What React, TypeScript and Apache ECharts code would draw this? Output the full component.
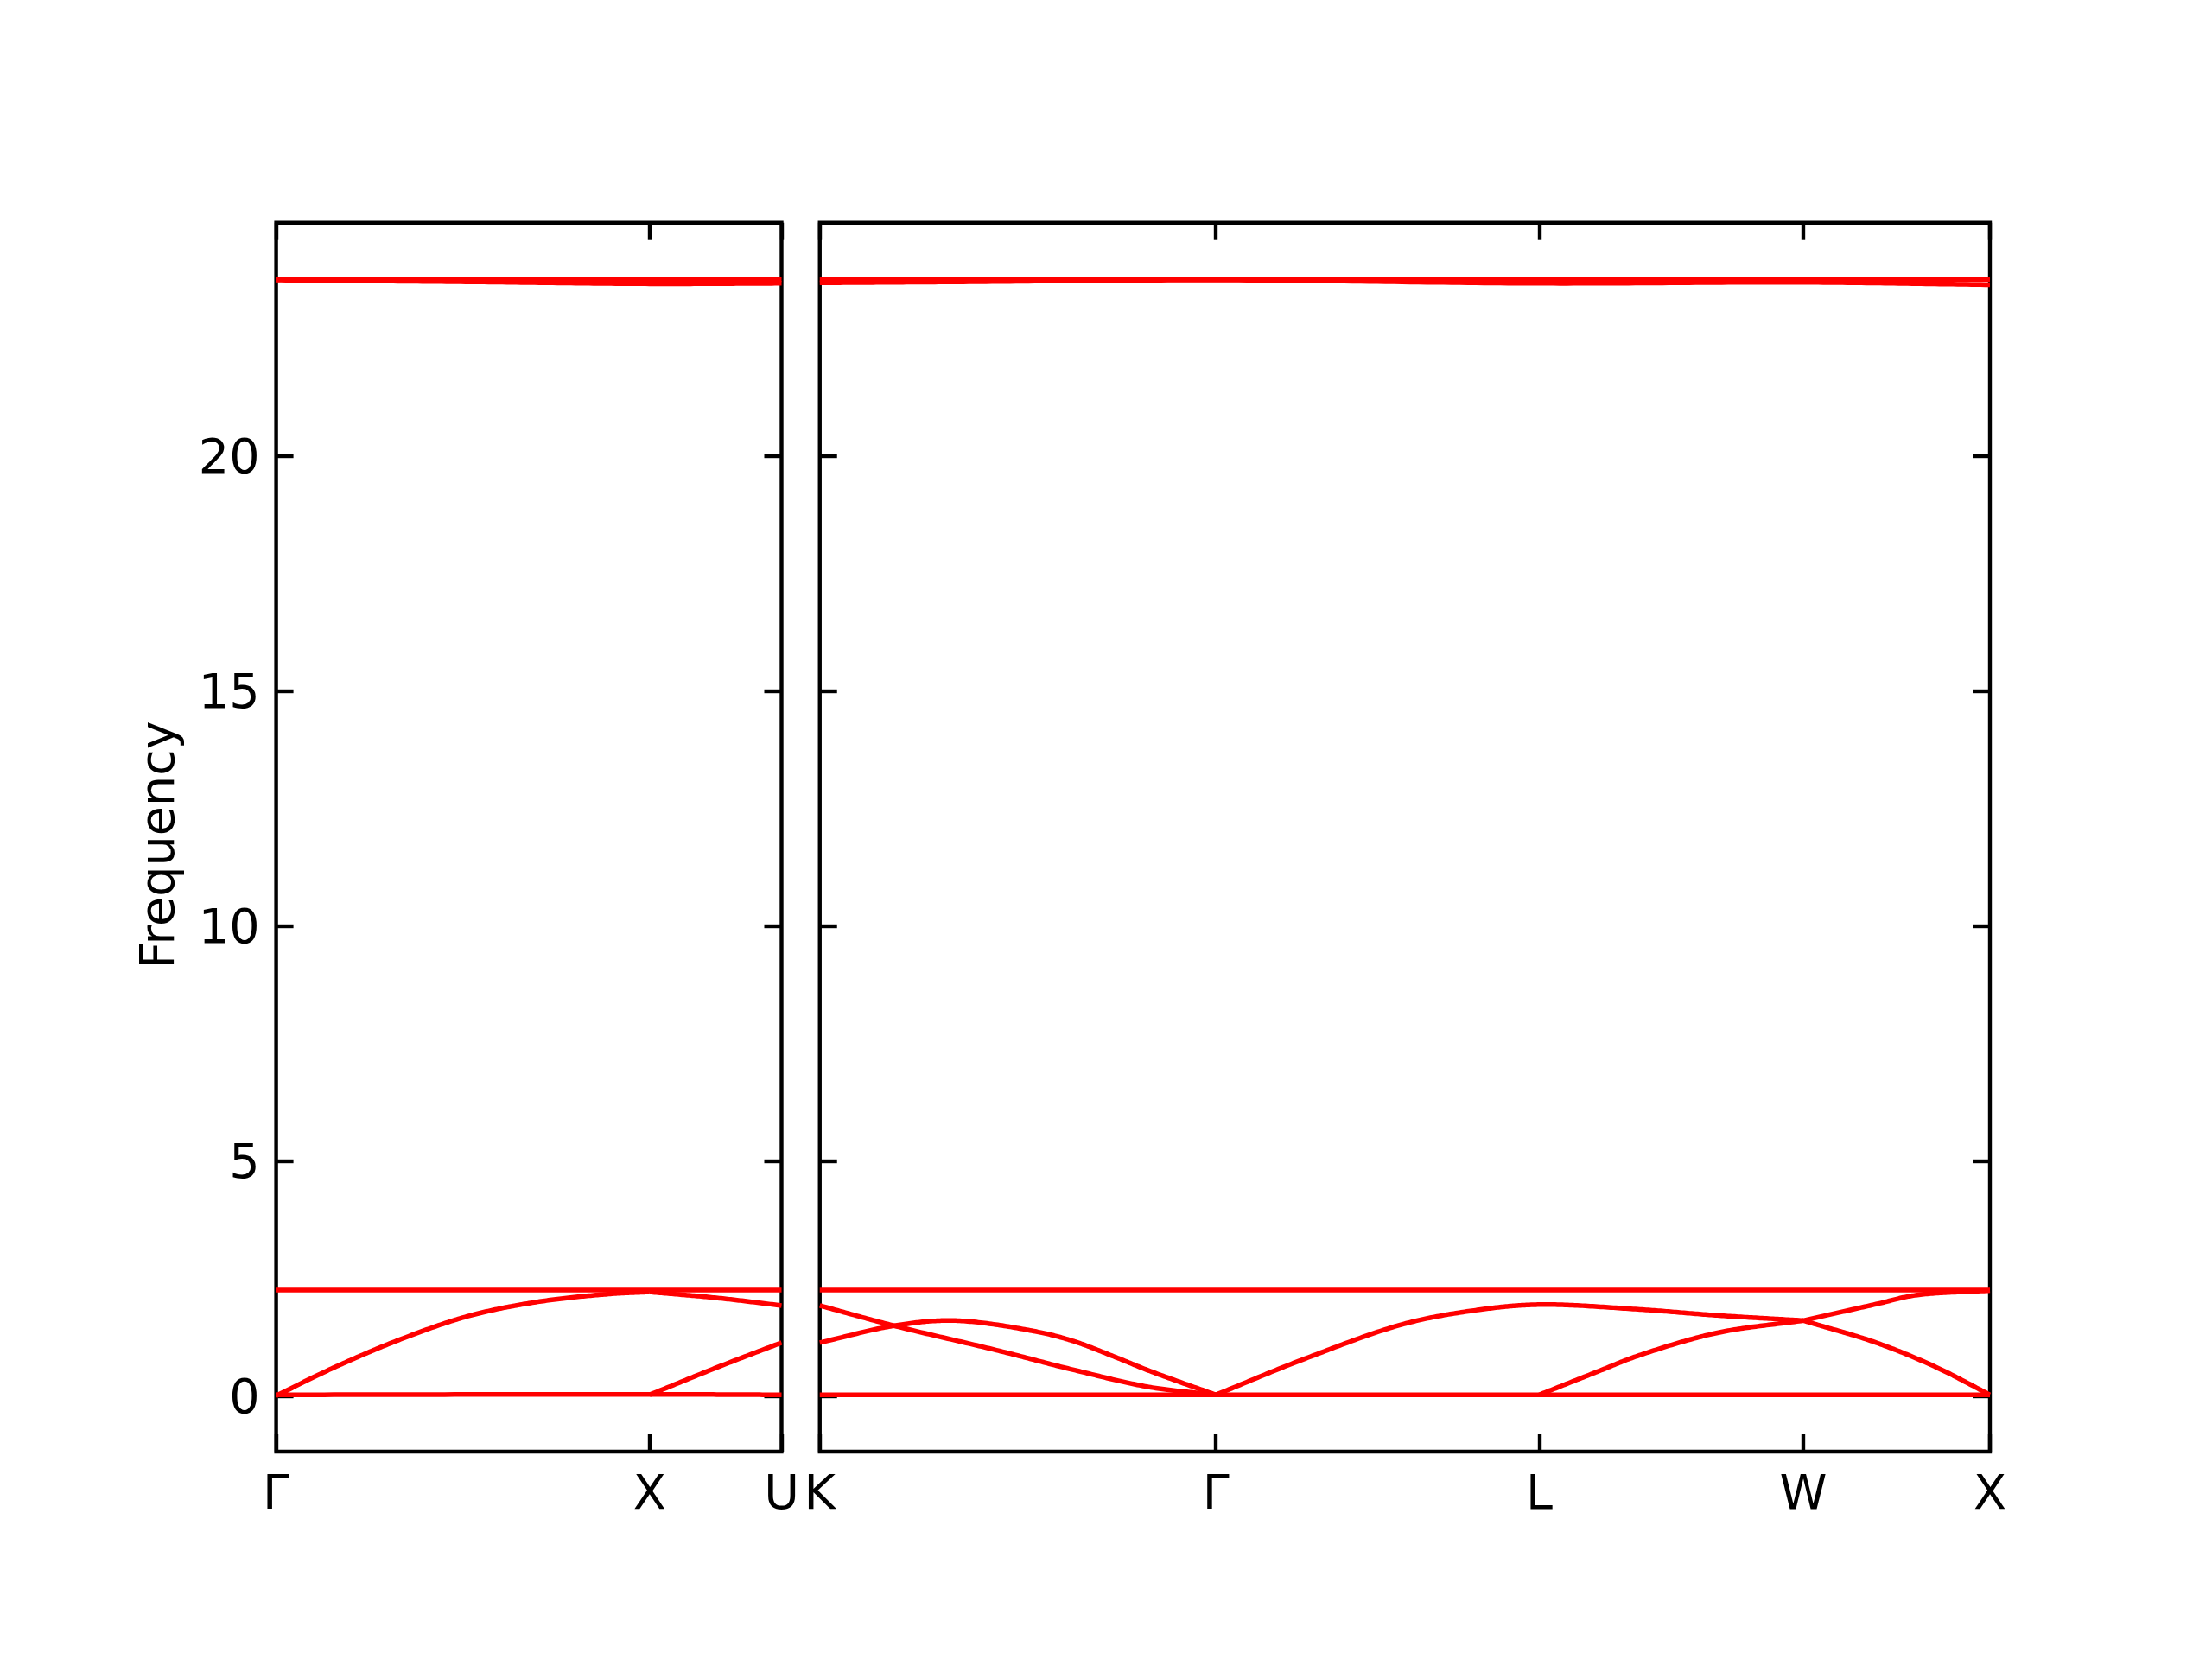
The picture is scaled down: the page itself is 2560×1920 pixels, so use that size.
import React, { useEffect, useRef } from "react";
import * as echarts from "echarts";

// ---- axis ticks / labels (path distance in units of 2π/a) ----
const leftTicks = [0, 1, 1.3536];
const leftLabels = ["Γ", "X", "U"];
const rightTicks = [0, 1.0607, 1.9267, 2.6338, 3.1338];
const rightLabels = ["K", "Γ", "L", "W", "X"];
const yTicks = [0, 5, 10, 15, 20];
const yMin = -1.19;
const yMax = 24.97;

// ---- left panel (Γ–X–U) bands ----
const leftFlatLow = [[0, 0.02], [1, 0.03], [1.3536, 0.02]];
const leftFlatHigh = [[0, 2.25], [1.3536, 2.25]];
const leftRiseGX = [[0, 0.0], [0.144, 0.56], [0.333, 1.2], [0.521, 1.71], [0.71, 2.01], [0.899, 2.17], [1, 2.21]];
const leftFallXU = [[1, 2.21], [1.183, 2.08], [1.3536, 1.92]];
const leftRiseXU = [[1, 0.02], [1.183, 0.61], [1.3536, 1.13]];
const leftTopA = [[0, 23.76], [1.3536, 23.76]];
const leftTopB = [[0, 23.75], [0.52, 23.71], [1, 23.67], [1.3536, 23.68]];

// ---- right panel (K–Γ–L–W–X) bands ----
const rightFlatLow = [[0, 0.02], [3.1338, 0.02]];
const rightFlatHigh = [[0, 2.25], [3.1338, 2.25]];
const rightKGA = [[0, 1.92], [0.199, 1.49], [0.473, 0.97], [0.68, 0.55], [0.886, 0.18], [1.0607, 0.02]];
const rightKGB = [[0, 1.13], [0.199, 1.49], [0.359, 1.6], [0.577, 1.37], [0.68, 1.16], [0.783, 0.85], [0.886, 0.52], [1.0607, 0.02]];
const rightGLWC = [[1.0607, 0.02], [1.3, 0.79], [1.565, 1.53], [1.766, 1.83], [1.9267, 1.94], [2.191, 1.84], [2.404, 1.71], [2.6338, 1.6]];
const rightWXUp = [[2.6338, 1.6], [2.829, 1.95], [2.935, 2.14], [3.1338, 2.24]];
const rightLWD = [[1.9267, 0.02], [2.085, 0.52], [2.191, 0.85], [2.404, 1.34], [2.6338, 1.6]];
const rightWXDown = [[2.6338, 1.6], [2.829, 1.13], [2.989, 0.61], [3.1338, 0.02]];
const rightTopA = [[0, 23.76], [3.1338, 23.76]];
const rightTopB = [[0, 23.69], [0.37, 23.71], [1.0607, 23.75], [1.9267, 23.68], [2.6338, 23.7], [3.1338, 23.65]];

const FONT = "DejaVu Sans";
const FS = 55.6;
const LW = 4.4;

function labelFor(ticks: number[], labels: string[]) {
  return (v: number) => {
    let best = 0;
    let bd = Infinity;
    ticks.forEach((t, i) => {
      const d = Math.abs(t - v);
      if (d < bd) {
        bd = d;
        best = i;
      }
    });
    return labels[best];
  };
}

function xAxis(grid: number, pos: "top" | "bottom", max: number, ticks: number[], labels: string[] | null) {
  return {
    type: "value",
    gridIndex: grid,
    position: pos,
    min: 0,
    max,
    axisLine: { show: false, onZero: false },
    splitLine: { show: false },
    axisTick: {
      show: true,
      inside: true,
      length: 20,
      customValues: ticks,
      lineStyle: { color: "#000", width: LW },
    },
    axisLabel: labels
      ? {
          show: true,
          customValues: ticks,
          formatter: labelFor(ticks, labels),
          fontFamily: FONT,
          fontSize: FS,
          color: "#000",
          margin: 18,
        }
      : { show: false },
  };
}

function yAxis(grid: number, pos: "left" | "right", withLabels: boolean) {
  const base: any = {
    type: "value",
    gridIndex: grid,
    position: pos,
    min: yMin,
    max: yMax,
    axisLine: { show: false, onZero: false },
    splitLine: { show: false },
    axisTick: {
      show: true,
      inside: true,
      length: 20,
      customValues: yTicks,
      lineStyle: { color: "#000", width: LW },
    },
    axisLabel: withLabels
      ? {
          show: true,
          customValues: yTicks,
          fontFamily: FONT,
          fontSize: FS,
          color: "#000",
          margin: 19,
        }
      : { show: false },
  };
  if (withLabels) {
    base.name = "Frequency";
    base.nameLocation = "middle";
    base.nameGap = 110;
    base.nameTextStyle = { fontFamily: FONT, fontSize: FS, color: "#000", padding: [0, 18, 0, 0] };
  }
  return base;
}

// centripetal Catmull-Rom through pixel points (rendering only)
function spline(pts: number[][]): number[][] {
  if (pts.length < 3) return pts;
  const n = pts.length;
  const first = [2 * pts[0][0] - pts[1][0], 2 * pts[0][1] - pts[1][1]];
  const last = [2 * pts[n - 1][0] - pts[n - 2][0], 2 * pts[n - 1][1] - pts[n - 2][1]];
  const P = [first, ...pts, last];
  const out: number[][] = [pts[0]];
  const dist = (a: number[], b: number[]) => Math.max(Math.sqrt(Math.hypot(b[0] - a[0], b[1] - a[1])), 1e-4);
  const lerp = (a: number[], b: number[], ta: number, tb: number, t: number) => {
    const u = (t - ta) / (tb - ta);
    return [a[0] + (b[0] - a[0]) * u, a[1] + (b[1] - a[1]) * u];
  };
  for (let i = 1; i < P.length - 2; i++) {
    const p0 = P[i - 1], p1 = P[i], p2 = P[i + 1], p3 = P[i + 2];
    const t0 = 0;
    const t1 = t0 + dist(p0, p1);
    const t2 = t1 + dist(p1, p2);
    const t3 = t2 + dist(p2, p3);
    const steps = 40;
    for (let s = 1; s <= steps; s++) {
      const t = t1 + ((t2 - t1) * s) / steps;
      const A1 = lerp(p0, p1, t0, t1, t);
      const A2 = lerp(p1, p2, t1, t2, t);
      const A3 = lerp(p2, p3, t2, t3, t);
      const B1 = lerp(A1, A2, t0, t2, t);
      const B2 = lerp(A2, A3, t1, t3, t);
      out.push(lerp(B1, B2, t1, t2, t));
    }
  }
  return out;
}

function band(data: number[][], grid: number) {
  return {
    type: "custom",
    coordinateSystem: "cartesian2d",
    xAxisIndex: grid === 0 ? 0 : 2,
    yAxisIndex: grid === 0 ? 0 : 2,
    data,
    encode: { x: 0, y: 1 },
    silent: true,
    clip: true,
    renderItem: (params: any, api: any) => {
      if (params.dataIndex !== 0) return null;
      const px = data.map((d) => api.coord(d));
      return {
        type: "polyline",
        shape: { points: spline(px) },
        style: { stroke: "#ff0000", lineWidth: 5.5, fill: "none", lineJoin: "round" },
      };
    },
  };
}

export default function App() {
  const ref = useRef<HTMLDivElement>(null);
  useEffect(() => {
    if (!ref.current) return;
    const chart = echarts.init(ref.current, null, { renderer: "svg" });
    const gridTop = 257.7;
    const gridHeight = 1422.3;
    const option: any = {
      animation: false,
      backgroundColor: "#ffffff",
      grid: [
        { left: 319.6, top: gridTop, width: 584.9, height: gridHeight, show: true, borderColor: "#000", borderWidth: LW, backgroundColor: "transparent", containLabel: false },
        { left: 948.75, top: gridTop, width: 1354.25, height: gridHeight, show: true, borderColor: "#000", borderWidth: LW, backgroundColor: "transparent", containLabel: false },
      ],
      xAxis: [
        xAxis(0, "bottom", leftTicks[leftTicks.length - 1], leftTicks, leftLabels),
        xAxis(0, "top", leftTicks[leftTicks.length - 1], leftTicks, null),
        xAxis(1, "bottom", rightTicks[rightTicks.length - 1], rightTicks, rightLabels),
        xAxis(1, "top", rightTicks[rightTicks.length - 1], rightTicks, null),
      ],
      yAxis: [yAxis(0, "left", true), yAxis(0, "right", false), yAxis(1, "left", false), yAxis(1, "right", false)],
      series: [
        band(leftFlatLow, 0),
        band(leftFlatHigh, 0),
        band(leftRiseGX, 0),
        band(leftFallXU, 0),
        band(leftRiseXU, 0),
        band(leftTopA, 0),
        band(leftTopB, 0),
        band(rightFlatLow, 1),
        band(rightFlatHigh, 1),
        band(rightKGA, 1),
        band(rightKGB, 1),
        band(rightGLWC, 1),
        band(rightWXUp, 1),
        band(rightLWD, 1),
        band(rightWXDown, 1),
        band(rightTopA, 1),
        band(rightTopB, 1),
      ],
    };
    chart.setOption(option);
    return () => chart.dispose();
  }, []);
  return <div ref={ref} style={{ position: "absolute", left: 0, top: 0, width: 2560, height: 1920, background: "#fff" }} />;
}
